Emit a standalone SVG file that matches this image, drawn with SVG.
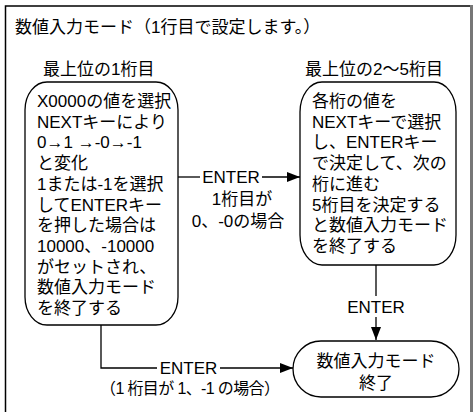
<svg xmlns="http://www.w3.org/2000/svg" width="473" height="412" viewBox="0 0 473 412">
<style>
text{font-family:"Liberation Sans","Noto Sans CJK JP",sans-serif;font-size:17px;fill:#000}
.s16{font-size:16px}
.mid{text-anchor:middle}
.box{fill:#fff;stroke:#000;stroke-width:1.3}
.ln{fill:none;stroke:#000;stroke-width:1.3}
</style>
<defs>
<marker id="ah" markerWidth="14" markerHeight="10" refX="13" refY="5" orient="auto" markerUnits="userSpaceOnUse">
<path d="M0,0 L13,5 L0,10 Z" fill="#000"/>
</marker>
</defs>
<rect x="0" y="0" width="473" height="412" fill="#fff"/>
<g id="frame">
<path d="M5.5,412 V6 H470" fill="none" stroke="#000" stroke-width="1.5"/>
<rect x="470" y="5" width="3" height="407" fill="#777"/>
<text x="15" y="33">数値入力モード（1行目で設定します。）</text>
</g>
<g id="headings">
<text x="43" y="75">最上位の1桁目</text>
<text x="305" y="75">最上位の2〜5桁目</text>
</g>
<g id="connectors">
<path class="ln" d="M178,177 H200"/>
<path class="ln" d="M262,177 H300" marker-end="url(#ah)"/>
<text class="mid" x="231" y="183">ENTER</text>
<text class="mid" x="242" y="205">1桁目が</text>
<text class="mid" x="238" y="227">0、-0の場合</text>
<path class="ln" d="M376,265 V296"/>
<path class="ln" d="M376,317 V340" marker-end="url(#ah)"/>
<text class="mid" x="376" y="313">ENTER</text>
<path class="ln" d="M101,325 V368 H157"/>
<path class="ln" d="M220,368 H293" marker-end="url(#ah)"/>
<text class="mid" x="188.5" y="374">ENTER</text>
<text class="s16" x="100" y="394" textLength="180" lengthAdjust="spacing">（1 桁目が 1、-1 の場合）</text>
</g>
<g id="node-first">
<rect class="box" x="25" y="82" width="153" height="243" rx="22" ry="28"/>
<text x="37" y="107">X0000の値を選択</text>
<text x="37" y="127.7">NEXTキーにより</text>
<text x="37" y="148.4">0→1 →-0→-1</text>
<text x="37" y="169.1">と変化</text>
<text x="37" y="189.8">1または-1を選択</text>
<text x="37" y="210.5">してENTERキー</text>
<text x="37" y="231.2">を押した場合は</text>
<text x="37" y="251.9">10000、-10000</text>
<text x="37" y="272.6">がセットされ、</text>
<text x="37" y="293.3">数値入力モード</text>
<text x="37" y="314">を終了する</text>
</g>
<g id="node-rest">
<rect class="box" x="300" y="82" width="156" height="183" rx="22" ry="30"/>
<text x="312" y="107">各桁の値を</text>
<text x="312" y="127.7">NEXTキーで選択</text>
<text x="312" y="148.4">し、ENTERキー</text>
<text x="312" y="169.1">で決定して、次の</text>
<text x="312" y="189.8">桁に進む</text>
<text x="312" y="210.5">5桁目を決定する</text>
<text x="312" y="231.2">と数値入力モード</text>
<text x="312" y="251.9">を終了する</text>
</g>
<g id="node-end">
<rect class="box" x="293" y="341" width="166" height="56" rx="28" ry="28"/>
<text class="mid" x="376" y="367">数値入力モード</text>
<text class="mid" x="376" y="389">終了</text>
</g>
</svg>
